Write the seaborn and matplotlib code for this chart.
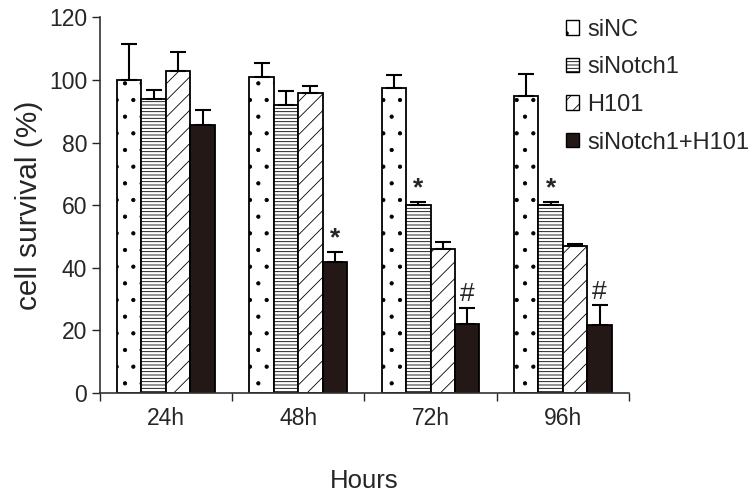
import numpy as np
import pandas as pd
import seaborn as sns
import matplotlib.pyplot as plt
from matplotlib.patches import Patch

hours = ["24h", "48h", "72h", "96h"]
groups = ["siNC", "siNotch1", "H101", "siNotch1+H101"]
si_nc = [100.0, 101.0, 97.5, 95.0]
si_notch1 = [93.8, 91.9, 60.0, 60.0]
h101 = [102.8, 95.7, 46.0, 47.0]
combo = [85.5, 42.0, 22.0, 21.8]
# upper end of each error bar
si_nc_top = [111.5, 105.3, 101.5, 102.0]
si_notch1_top = [96.7, 96.4, 61.0, 61.0]
h101_top = [108.8, 98.0, 48.3, 47.6]
combo_top = [90.3, 45.0, 27.2, 28.1]
# significance marks: (group, hour, mark)
marks = [("siNotch1+H101", "48h", "*"), ("siNotch1", "72h", "*"), ("siNotch1", "96h", "*"),
         ("siNotch1+H101", "72h", "#"), ("siNotch1+H101", "96h", "#")]

values = {"siNC": si_nc, "siNotch1": si_notch1, "H101": h101, "siNotch1+H101": combo}
tops = {"siNC": si_nc_top, "siNotch1": si_notch1_top, "H101": h101_top, "siNotch1+H101": combo_top}

df = pd.DataFrame([(h, g, values[g][i]) for g in groups for i, h in enumerate(hours)],
                  columns=["hours", "group", "survival"])

sns.set_style("white")
plt.rcParams["font.family"] = ["Liberation Sans", "DejaVu Sans"]
plt.rcParams["hatch.linewidth"] = 0.6

fig = plt.figure(figsize=(7.56, 4.92), dpi=100)
ax = fig.add_axes([0.132, 0.201, 0.70, 0.764])

face = {"siNC": "white", "siNotch1": "white", "H101": "white", "siNotch1+H101": "#231815"}
hatch = {"siNC": ".", "siNotch1": "-----", "H101": "//", "siNotch1+H101": ""}

sns.barplot(data=df, x="hours", y="survival", hue="group", order=hours, hue_order=groups,
            errorbar=None, width=0.74, gap=0, legend=False, ax=ax,
            edgecolor="black", linewidth=1.3)

centers = {}
for g, cont in zip(groups, ax.containers):
    xs = []
    for p in cont.patches:
        p.set_facecolor(face[g])
        p.set_hatch(hatch[g])
        p.set_edgecolor("black")
        xs.append(p.get_x() + p.get_width() / 2)
    centers[g] = xs
    v = np.array(values[g])
    up = np.array(tops[g]) - v
    ax.errorbar(xs, v, yerr=[np.zeros_like(up), up], fmt="none", ecolor="black",
                elinewidth=1.5, capsize=6, capthick=1.5, zorder=1)

for g, h, m in marks:
    i = hours.index(h)
    ax.text(centers[g][i], tops[g][i] + 0.5, m, ha="center", va="bottom", fontsize=19,
            fontweight="bold" if m == "*" else "normal")

ax.set_ylim(0, 120)
ax.set_xlim(-0.5, 3.5)
ax.set_yticks(range(0, 121, 20))
ax.set_xticks([-0.5, 0.5, 1.5, 2.5, 3.5], minor=True)
ax.tick_params(axis="x", which="major", length=0, labelsize=16.5, pad=10)
ax.tick_params(axis="x", which="minor", length=6, width=1, direction="out", bottom=True)
ax.tick_params(axis="y", length=6, width=1, direction="out", left=True, labelsize=16.5, pad=3)
sns.despine(ax=ax)
for s in ["left", "bottom"]:
    ax.spines[s].set_color("#333333")
    ax.spines[s].set_linewidth(1.2)

ax.set_xlabel("Hours", fontsize=18.5, labelpad=28)
ax.set_ylabel("cell survival (%)", fontsize=21.5, labelpad=4)

handles = [Patch(facecolor=face[g], edgecolor="black", hatch=hatch[g], linewidth=1) for g in groups]
fig.legend(handles, groups, loc="upper left", bbox_to_anchor=(0.721, 1.005), frameon=False,
           fontsize=17, handlelength=0.55, handleheight=0.55, handletextpad=0.35, labelspacing=0.66)

fig.savefig("out.png", dpi=100)
